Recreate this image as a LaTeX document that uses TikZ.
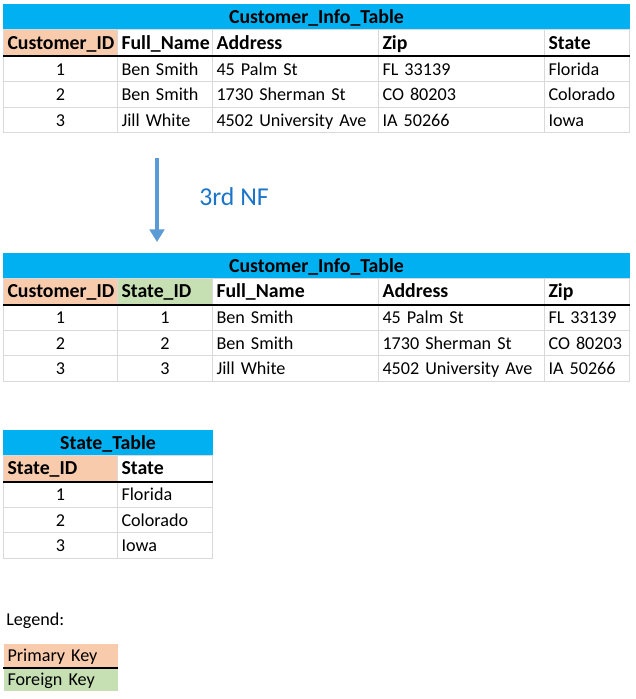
\documentclass[tikz,border=0pt]{standalone}
\usepackage{fontspec}
\setmainfont{Carlito}
\usepackage{tikz}
\usetikzlibrary{arrows.meta,positioning,calc}
\definecolor{titlebar}{HTML}{00B0F0}
\definecolor{pkey}{HTML}{F8CBAD}
\definecolor{fkey}{HTML}{C6E0B4}
\definecolor{gridgray}{HTML}{D9D9D9}
\definecolor{arrowblue}{HTML}{5B9BD5}
\definecolor{nfblue}{HTML}{1A75C8}
\tikzstyle{cell}=[draw=gridgray, line width=0.75pt, fill=white, inner xsep=3pt,
  inner ysep=0pt, font=\fontsize{13.6}{16}\selectfont, text height=2ex, text depth=0ex]
\tikzstyle{num}=[cell, align=center]
\tikzstyle{head}=[cell, font=\fontsize{14.85}{17}\selectfont\bfseries]
\tikzstyle{tabtitle}=[head, fill=titlebar, draw=titlebar, align=center]
\tikzstyle{prim}=[head, fill=pkey]
\tikzstyle{fore}=[head, fill=fkey]
\tikzstyle{legpk}=[cell, fill=pkey, draw=none]
\tikzstyle{legfk}=[cell, fill=fkey, draw=none]
\tikzstyle{keyline}=[draw, line width=1.5pt]
\tikzstyle{line}=[draw, line width=3pt, color=arrowblue, -{Triangle[width=11pt,length=9.5pt]}]
% name, x, y, width, height (in px), style, text
\newcommand{\tabcell}[7]{%
\pgfmathsetmacro{\cw}{(#4-8)*0.75}\pgfmathsetmacro{\ch}{#5*0.75}
\path (#2,#3) node[#6, anchor=north west, minimum height=\ch pt, text width=\cw pt] (#1) {\mbox{#7}};}
\begin{document}
\begin{tikzpicture}[x=0.75pt,y=-0.75pt]
  \useasboundingbox (0,0) rectangle (635,699);

  % Customer_Info_Table before 3rd NF
  \tabcell{ta-title}{3}{4.5}{626}{25}{tabtitle}{Customer\_Info\_Table}
  \tabcell{ta-h1}{3}{29.5}{114}{26}{prim}{Customer\_ID}
  \tabcell{ta-h2}{117}{29.5}{95}{26}{head}{Full\_Name}
  \tabcell{ta-h3}{212}{29.5}{166}{26}{head}{Address}
  \tabcell{ta-h4}{378}{29.5}{166}{26}{head}{Zip}
  \tabcell{ta-h5}{544}{29.5}{85}{26}{head}{State}
  \foreach \r/\nm/\ad/\zp/\st in {1/Ben Smith/45 Palm St/FL 33139/Florida,
      2/Ben Smith/1730 Sherman St/CO 80203/Colorado,
      3/Jill White/4502 University Ave/IA 50266/Iowa}{
    \pgfmathsetmacro{\yy}{55.5+(\r-1)*25.5}
    \tabcell{ta-\r1}{3}{\yy}{114}{25.5}{num}{\r}
    \tabcell{ta-\r2}{117}{\yy}{95}{25.5}{cell}{\nm}
    \tabcell{ta-\r3}{212}{\yy}{166}{25.5}{cell}{\ad}
    \tabcell{ta-\r4}{378}{\yy}{166}{25.5}{cell}{\zp}
    \tabcell{ta-\r5}{544}{\yy}{85}{25.5}{cell}{\st}
  }
  \path [keyline] (ta-h1.south west) -- (ta-h5.south east);

  % Arrow
  \coordinate (nf-top) at (157,158);
  \coordinate (nf-end) at (157,242);
  \path [line] (nf-top) -- (nf-end);
  \node [anchor=west, inner sep=0pt, text=nfblue, font=\fontsize{19.3}{22}\selectfont] (nf) at (199,197) {3rd NF};

  % Customer_Info_Table after 3rd NF
  \tabcell{tb-title}{3}{253}{626}{25}{tabtitle}{Customer\_Info\_Table}
  \tabcell{tb-h1}{3}{278}{114}{26}{prim}{Customer\_ID}
  \tabcell{tb-h2}{117}{278}{95}{26}{fore}{State\_ID}
  \tabcell{tb-h3}{212}{278}{166}{26}{head}{Full\_Name}
  \tabcell{tb-h4}{378}{278}{166}{26}{head}{Address}
  \tabcell{tb-h5}{544}{278}{85}{26}{head}{Zip}
  \foreach \r/\nm/\ad/\zp in {1/Ben Smith/45 Palm St/FL 33139,
      2/Ben Smith/1730 Sherman St/CO 80203,
      3/Jill White/4502 University Ave/IA 50266}{
    \pgfmathsetmacro{\yy}{304+(\r-1)*25.5}
    \tabcell{tb-\r1}{3}{\yy}{114}{25.5}{num}{\r}
    \tabcell{tb-\r2}{117}{\yy}{95}{25.5}{num}{\r}
    \tabcell{tb-\r3}{212}{\yy}{166}{25.5}{cell}{\nm}
    \tabcell{tb-\r4}{378}{\yy}{166}{25.5}{cell}{\ad}
    \tabcell{tb-\r5}{544}{\yy}{85}{25.5}{cell}{\zp}
  }
  \path [keyline] (tb-h1.south west) -- (tb-h5.south east);

  % State_Table
  \tabcell{tc-title}{3}{430}{209}{25}{tabtitle}{State\_Table}
  \tabcell{tc-h1}{3}{455}{114}{26}{prim}{State\_ID}
  \tabcell{tc-h2}{117}{455}{95}{26}{head}{State}
  \foreach \r/\st in {1/Florida, 2/Colorado, 3/Iowa}{
    \pgfmathsetmacro{\yy}{481+(\r-1)*25.5}
    \tabcell{tc-\r1}{3}{\yy}{114}{25.5}{num}{\r}
    \tabcell{tc-\r2}{117}{\yy}{95}{25.5}{cell}{\st}
  }
  \path [keyline] (tc-h1.south west) -- (tc-h2.south east);

  % Legend
  \node [anchor=west, inner sep=0pt, font=\fontsize{13.6}{16}\selectfont] (legend) at (6,621) {Legend:};
  \tabcell{lg-pk}{3}{643}{114}{24}{legpk}{Primary Key}
  \tabcell{lg-fk}{3}{667}{114}{23}{legfk}{Foreign Key}
  \path [keyline] (lg-pk.south west) -- (lg-pk.south east);

\end{tikzpicture}
\end{document}
